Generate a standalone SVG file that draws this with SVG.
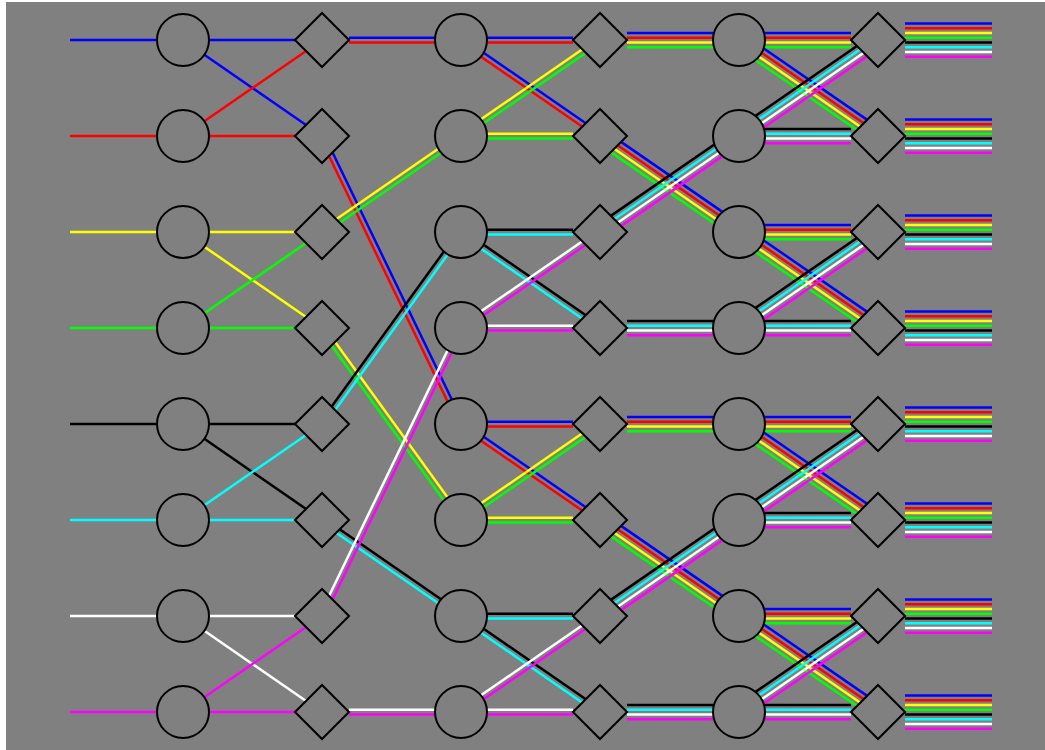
<svg xmlns="http://www.w3.org/2000/svg" width="1045" height="750" viewBox="0 0 1045 750">
<style>
line{stroke-width:2.5;fill:none}
.b{stroke:#0000ff}.r{stroke:#ff0000}.y{stroke:#ffff00}.g{stroke:#00ff00}
.k{stroke:#000000}.c{stroke:#00ffff}.w{stroke:#ffffff}.m{stroke:#ff00ff}
.n{fill:#808080;stroke:#000;stroke-width:2}
</style>
<defs>
<g id="h2br"><line x1="0" x2="86" y1="-2.375" y2="-2.375" class="b"/><line x1="0" x2="86" y1="2.375" y2="2.375" class="r"/></g>
<g id="h2yg"><line x1="0" x2="86" y1="-2.375" y2="-2.375" class="y"/><line x1="0" x2="86" y1="2.375" y2="2.375" class="g"/></g>
<g id="h2kc"><line x1="0" x2="86" y1="-2.375" y2="-2.375" class="k"/><line x1="0" x2="86" y1="2.375" y2="2.375" class="c"/></g>
<g id="h2wm"><line x1="0" x2="86" y1="-2.375" y2="-2.375" class="w"/><line x1="0" x2="86" y1="2.375" y2="2.375" class="m"/></g>
<g id="h4a"><line x1="0" x2="86" y1="-7.125" y2="-7.125" class="b"/><line x1="0" x2="86" y1="-2.375" y2="-2.375" class="r"/><line x1="0" x2="86" y1="2.375" y2="2.375" class="y"/><line x1="0" x2="86" y1="7.125" y2="7.125" class="g"/></g>
<g id="h4b"><line x1="0" x2="86" y1="-7.125" y2="-7.125" class="k"/><line x1="0" x2="86" y1="-2.375" y2="-2.375" class="c"/><line x1="0" x2="86" y1="2.375" y2="2.375" class="w"/><line x1="0" x2="86" y1="7.125" y2="7.125" class="m"/></g>
<g id="d2br"><line x1="0" x2="168.93" y1="-2.375" y2="-2.375" class="b"/><line x1="0" x2="168.93" y1="2.375" y2="2.375" class="r"/></g>
<g id="d2yg"><line x1="0" x2="168.93" y1="-2.375" y2="-2.375" class="y"/><line x1="0" x2="168.93" y1="2.375" y2="2.375" class="g"/></g>
<g id="d2kc"><line x1="0" x2="168.93" y1="-2.375" y2="-2.375" class="k"/><line x1="0" x2="168.93" y1="2.375" y2="2.375" class="c"/></g>
<g id="d2wm"><line x1="0" x2="168.93" y1="-2.375" y2="-2.375" class="w"/><line x1="0" x2="168.93" y1="2.375" y2="2.375" class="m"/></g>
<g id="d4a"><line x1="0" x2="168.93" y1="-7.125" y2="-7.125" class="b"/><line x1="0" x2="168.93" y1="-2.375" y2="-2.375" class="r"/><line x1="0" x2="168.93" y1="2.375" y2="2.375" class="y"/><line x1="0" x2="168.93" y1="7.125" y2="7.125" class="g"/></g>
<g id="d4b"><line x1="0" x2="168.93" y1="-7.125" y2="-7.125" class="k"/><line x1="0" x2="168.93" y1="-2.375" y2="-2.375" class="c"/><line x1="0" x2="168.93" y1="2.375" y2="2.375" class="w"/><line x1="0" x2="168.93" y1="7.125" y2="7.125" class="m"/></g>
<g id="o8"><line x1="0" x2="87" y1="-16.625" y2="-16.625" class="b"/><line x1="0" x2="87" y1="-11.875" y2="-11.875" class="r"/><line x1="0" x2="87" y1="-7.125" y2="-7.125" class="y"/><line x1="0" x2="87" y1="-2.375" y2="-2.375" class="g"/><line x1="0" x2="87" y1="2.375" y2="2.375" class="k"/><line x1="0" x2="87" y1="7.125" y2="7.125" class="c"/><line x1="0" x2="87" y1="11.875" y2="11.875" class="w"/><line x1="0" x2="87" y1="16.625" y2="16.625" class="m"/></g>
<polygon id="dia" class="n" points="-27,0 0,-27 27,0 0,27"/>
</defs>
<rect width="1045" height="750" fill="#ffffff"/>
<rect x="6" y="2" width="1039" height="748" fill="#808080"/>
<g id="connectors">
<line x1="70" y1="40" x2="322" y2="40" class="b"/>
<line x1="70" y1="136" x2="322" y2="136" class="r"/>
<line x1="70" y1="232" x2="322" y2="232" class="y"/>
<line x1="70" y1="328" x2="322" y2="328" class="g"/>
<line x1="70" y1="424" x2="322" y2="424" class="k"/>
<line x1="70" y1="520" x2="322" y2="520" class="c"/>
<line x1="70" y1="616" x2="322" y2="616" class="w"/>
<line x1="70" y1="712" x2="322" y2="712" class="m"/>
<line x1="183" y1="40" x2="322" y2="136" class="b"/>
<line x1="183" y1="136" x2="322" y2="40" class="r"/>
<line x1="183" y1="232" x2="322" y2="328" class="y"/>
<line x1="183" y1="328" x2="322" y2="232" class="g"/>
<line x1="183" y1="424" x2="322" y2="520" class="k"/>
<line x1="183" y1="520" x2="322" y2="424" class="c"/>
<line x1="183" y1="616" x2="322" y2="712" class="w"/>
<line x1="183" y1="712" x2="322" y2="616" class="m"/>
<use href="#h2br" transform="translate(349,40)"/>
<use href="#h2wm" transform="translate(349,712)"/>
<g transform="translate(322,136) rotate(64.235)"><line x1="0" x2="319.79" y1="-2.375" y2="-2.375" class="b"/><line x1="0" x2="319.79" y1="2.375" y2="2.375" class="r"/></g>
<use href="#d2yg" transform="translate(322,232) rotate(-34.62)"/>
<g transform="translate(322,328) rotate(54.097)"><line x1="0" x2="237.03" y1="-2.375" y2="-2.375" class="y"/><line x1="0" x2="237.03" y1="2.375" y2="2.375" class="g"/></g>
<g transform="translate(322,424) rotate(-54.097)"><line x1="0" x2="237.03" y1="-2.375" y2="-2.375" class="k"/><line x1="0" x2="237.03" y1="2.375" y2="2.375" class="c"/></g>
<use href="#d2kc" transform="translate(322,520) rotate(34.62)"/>
<g transform="translate(322,616) rotate(-64.235)"><line x1="0" x2="319.79" y1="-2.375" y2="-2.375" class="w"/><line x1="0" x2="319.79" y1="2.375" y2="2.375" class="m"/></g>
<use href="#h2br" transform="translate(487,40)"/>
<use href="#h2yg" transform="translate(487,136)"/>
<use href="#h2kc" transform="translate(487,232)"/>
<use href="#h2wm" transform="translate(487,328)"/>
<use href="#h2br" transform="translate(487,424)"/>
<use href="#h2yg" transform="translate(487,520)"/>
<use href="#h2kc" transform="translate(487,616)"/>
<use href="#h2wm" transform="translate(487,712)"/>
<use href="#d2br" transform="translate(461,40) rotate(34.62)"/>
<use href="#d2yg" transform="translate(461,136) rotate(-34.62)"/>
<use href="#d2kc" transform="translate(461,232) rotate(34.62)"/>
<use href="#d2wm" transform="translate(461,328) rotate(-34.62)"/>
<use href="#d2br" transform="translate(461,424) rotate(34.62)"/>
<use href="#d2yg" transform="translate(461,520) rotate(-34.62)"/>
<use href="#d2kc" transform="translate(461,616) rotate(34.62)"/>
<use href="#d2wm" transform="translate(461,712) rotate(-34.62)"/>
<use href="#h4a" transform="translate(627,40)"/>
<use href="#h4b" transform="translate(627,328)"/>
<use href="#h4a" transform="translate(627,424)"/>
<use href="#h4b" transform="translate(627,712)"/>
<use href="#d4a" transform="translate(600,136) rotate(34.62)"/>
<use href="#d4b" transform="translate(600,232) rotate(-34.62)"/>
<use href="#d4a" transform="translate(600,520) rotate(34.62)"/>
<use href="#d4b" transform="translate(600,616) rotate(-34.62)"/>
<use href="#h4a" transform="translate(765,40)"/>
<use href="#h4b" transform="translate(765,136)"/>
<use href="#h4a" transform="translate(765,232)"/>
<use href="#h4b" transform="translate(765,328)"/>
<use href="#h4a" transform="translate(765,424)"/>
<use href="#h4b" transform="translate(765,520)"/>
<use href="#h4a" transform="translate(765,616)"/>
<use href="#h4b" transform="translate(765,712)"/>
<use href="#d4a" transform="translate(739,40) rotate(34.62)"/>
<use href="#d4b" transform="translate(739,136) rotate(-34.62)"/>
<use href="#d4a" transform="translate(739,232) rotate(34.62)"/>
<use href="#d4b" transform="translate(739,328) rotate(-34.62)"/>
<use href="#d4a" transform="translate(739,424) rotate(34.62)"/>
<use href="#d4b" transform="translate(739,520) rotate(-34.62)"/>
<use href="#d4a" transform="translate(739,616) rotate(34.62)"/>
<use href="#d4b" transform="translate(739,712) rotate(-34.62)"/>
<use href="#o8" transform="translate(905,40)"/>
<use href="#o8" transform="translate(905,136)"/>
<use href="#o8" transform="translate(905,232)"/>
<use href="#o8" transform="translate(905,328)"/>
<use href="#o8" transform="translate(905,424)"/>
<use href="#o8" transform="translate(905,520)"/>
<use href="#o8" transform="translate(905,616)"/>
<use href="#o8" transform="translate(905,712)"/>
</g>
<g id="s1c0"><circle class="n" cx="183" cy="40" r="26"/></g>
<g id="s1c1"><circle class="n" cx="183" cy="136" r="26"/></g>
<g id="s1c2"><circle class="n" cx="183" cy="232" r="26"/></g>
<g id="s1c3"><circle class="n" cx="183" cy="328" r="26"/></g>
<g id="s1c4"><circle class="n" cx="183" cy="424" r="26"/></g>
<g id="s1c5"><circle class="n" cx="183" cy="520" r="26"/></g>
<g id="s1c6"><circle class="n" cx="183" cy="616" r="26"/></g>
<g id="s1c7"><circle class="n" cx="183" cy="712" r="26"/></g>
<g id="s1d0"><use href="#dia" x="322" y="40"/></g>
<g id="s1d1"><use href="#dia" x="322" y="136"/></g>
<g id="s1d2"><use href="#dia" x="322" y="232"/></g>
<g id="s1d3"><use href="#dia" x="322" y="328"/></g>
<g id="s1d4"><use href="#dia" x="322" y="424"/></g>
<g id="s1d5"><use href="#dia" x="322" y="520"/></g>
<g id="s1d6"><use href="#dia" x="322" y="616"/></g>
<g id="s1d7"><use href="#dia" x="322" y="712"/></g>
<g id="s2c0"><circle class="n" cx="461" cy="40" r="26"/></g>
<g id="s2c1"><circle class="n" cx="461" cy="136" r="26"/></g>
<g id="s2c2"><circle class="n" cx="461" cy="232" r="26"/></g>
<g id="s2c3"><circle class="n" cx="461" cy="328" r="26"/></g>
<g id="s2c4"><circle class="n" cx="461" cy="424" r="26"/></g>
<g id="s2c5"><circle class="n" cx="461" cy="520" r="26"/></g>
<g id="s2c6"><circle class="n" cx="461" cy="616" r="26"/></g>
<g id="s2c7"><circle class="n" cx="461" cy="712" r="26"/></g>
<g id="s2d0"><use href="#dia" x="600" y="40"/></g>
<g id="s2d1"><use href="#dia" x="600" y="136"/></g>
<g id="s2d2"><use href="#dia" x="600" y="232"/></g>
<g id="s2d3"><use href="#dia" x="600" y="328"/></g>
<g id="s2d4"><use href="#dia" x="600" y="424"/></g>
<g id="s2d5"><use href="#dia" x="600" y="520"/></g>
<g id="s2d6"><use href="#dia" x="600" y="616"/></g>
<g id="s2d7"><use href="#dia" x="600" y="712"/></g>
<g id="s3c0"><circle class="n" cx="739" cy="40" r="26"/></g>
<g id="s3c1"><circle class="n" cx="739" cy="136" r="26"/></g>
<g id="s3c2"><circle class="n" cx="739" cy="232" r="26"/></g>
<g id="s3c3"><circle class="n" cx="739" cy="328" r="26"/></g>
<g id="s3c4"><circle class="n" cx="739" cy="424" r="26"/></g>
<g id="s3c5"><circle class="n" cx="739" cy="520" r="26"/></g>
<g id="s3c6"><circle class="n" cx="739" cy="616" r="26"/></g>
<g id="s3c7"><circle class="n" cx="739" cy="712" r="26"/></g>
<g id="s3d0"><use href="#dia" x="878" y="40"/></g>
<g id="s3d1"><use href="#dia" x="878" y="136"/></g>
<g id="s3d2"><use href="#dia" x="878" y="232"/></g>
<g id="s3d3"><use href="#dia" x="878" y="328"/></g>
<g id="s3d4"><use href="#dia" x="878" y="424"/></g>
<g id="s3d5"><use href="#dia" x="878" y="520"/></g>
<g id="s3d6"><use href="#dia" x="878" y="616"/></g>
<g id="s3d7"><use href="#dia" x="878" y="712"/></g>
</svg>
